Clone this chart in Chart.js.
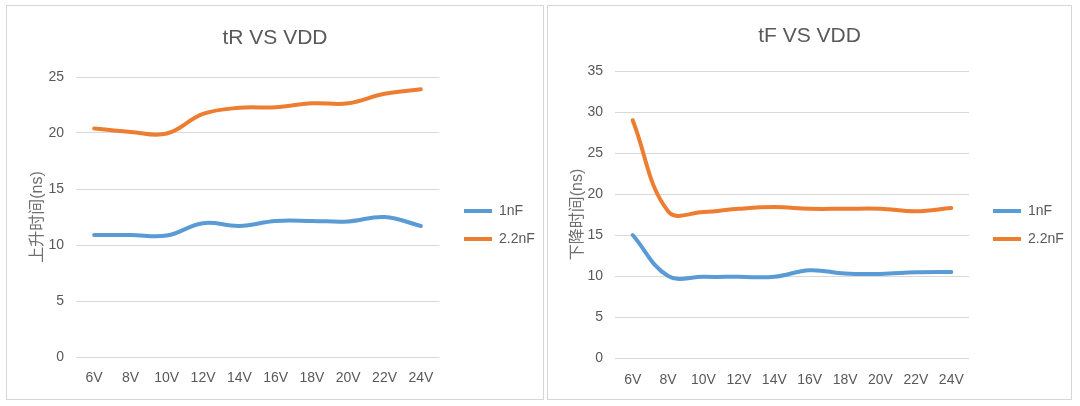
<!DOCTYPE html>
<html lang="zh">
<head>
    <meta charset="UTF-8">
    <title>tR / tF VS VDD</title>
    <script src="https://cdn.jsdelivr.net/npm/chart.js"></script>
    <style>
        body {
            margin: 0;
            width: 1080px;
            height: 406px;
            background: #ffffff;
            position: relative;
            overflow: hidden;
        }
        .panel {
            position: absolute;
            top: 5px;
            height: 393px;
            border: 1px solid #d6d6d6;
            background: #ffffff;
        }
        #leftPanel { left: 6px; width: 536px; }
        #rightPanel { left: 547px; width: 523px; }
        canvas { display: block; }
    </style>
</head>
<body>
    <div id="leftPanel" class="panel"><canvas id="riseChart" width="536" height="393"></canvas></div>
    <div id="rightPanel" class="panel"><canvas id="fallChart" width="523" height="393"></canvas></div>

    <script>
        // supply voltage steps (shared x axis)
        const vddLabels = ['6V', '8V', '10V', '12V', '14V', '16V', '18V', '20V', '22V', '24V'];
        const seriesNames = ['1nF', '2.2nF'];

        // rise time tR (ns)
        const rise1nF = [10.9, 10.9, 10.85, 11.95, 11.7, 12.15, 12.15, 12.1, 12.5, 11.7];
        const rise22nF = [20.4, 20.1, 19.95, 21.7, 22.25, 22.3, 22.65, 22.65, 23.5, 23.9];

        // fall time tF (ns)
        const fall1nF = [15.0, 10.0, 9.9, 9.9, 9.9, 10.7, 10.3, 10.25, 10.45, 10.5];
        const fall22nF = [29.0, 17.9, 17.8, 18.2, 18.4, 18.2, 18.2, 18.2, 17.9, 18.3];

        const blue = '#5B9BD5';
        const orange = '#ED7D31';
        const textGray = '#595959';

        Chart.defaults.font.family = '"Liberation Sans", Arial, "Noto Sans CJK SC", sans-serif';
        Chart.defaults.color = textGray;

        // title spans the whole canvas, legend sits to the right of the plot
        const placeBoxes = {
            id: 'placeBoxes',
            afterLayout(chart, args, opts) {
                const t = chart.titleBlock;
                if (t) {
                    t.left = 0;
                    t.right = chart.width;
                    t.width = chart.width;
                }
                const lg = chart.legend;
                if (lg) {
                    const pad = lg.options.labels.padding;
                    const dx = opts.x - pad - lg.left;
                    const dy = opts.y - pad - lg.top;
                    lg.left += dx; lg.right += dx;
                    lg.top += dy; lg.bottom += dy;
                }
            }
        };

        function makeLine(dataA, dataB) {
            return [
                {
                    label: seriesNames[0],
                    data: dataA,
                    borderColor: blue,
                    backgroundColor: blue
                },
                {
                    label: seriesNames[1],
                    data: dataB,
                    borderColor: orange,
                    backgroundColor: orange
                }
            ].map(ds => Object.assign(ds, {
                borderWidth: 4,
                pointRadius: 0,
                pointHoverRadius: 0,
                tension: 0.4,
                fill: false,
                borderCapStyle: 'round',
                borderJoinStyle: 'round'
            }));
        }

        function makeChart(id, cfg) {
            return new Chart(document.getElementById(id), {
                type: 'line',
                data: {
                    labels: vddLabels,
                    datasets: makeLine(cfg.a, cfg.b)
                },
                plugins: [placeBoxes],
                options: {
                    responsive: false,
                    animation: false,
                    layout: { padding: { left: 0, top: 0, right: cfg.padRight, bottom: 0 } },
                    plugins: {
                        title: {
                            display: true,
                            text: cfg.title,
                            color: textGray,
                            font: { size: 21, weight: 'normal' },
                            padding: { top: cfg.titleTop, bottom: cfg.titleBottom }
                        },
                        legend: {
                            position: 'chartArea',
                            align: 'start',
                            labels: {
                                usePointStyle: true,
                                pointStyle: 'line',
                                pointStyleWidth: 28,
                                boxHeight: 14,
                                padding: 14,
                                color: textGray,
                                font: { size: 14 }
                            }
                        },
                        tooltip: { enabled: false },
                        placeBoxes: { x: cfg.legendX, y: cfg.legendY }
                    },
                    scales: {
                        x: {
                            offset: true,
                            grid: { display: false, drawTicks: false, offset: true },
                            border: { display: false },
                            ticks: { padding: cfg.xPad, font: { size: 14 }, color: textGray },
                            afterFit: s => { s.height = cfg.xHeight; }
                        },
                        y: {
                            min: 0,
                            max: cfg.yMax,
                            grid: { color: '#d9d9d9', lineWidth: 1, drawTicks: false },
                            border: { display: false },
                            ticks: { stepSize: 5, padding: 12, font: { size: 14 }, color: textGray },
                            title: {
                                display: true,
                                text: cfg.yTitle,
                                color: '#6f6f6f',
                                font: { size: 16 },
                                padding: { top: cfg.yTitlePad, bottom: 0 }
                            },
                            afterFit: s => { s.width = cfg.yWidth; }
                        }
                    }
                }
            });
        }

        makeChart('riseChart', {
            a: rise1nF, b: rise22nF,
            title: 'tR VS VDD', yTitle: '上升时间(ns)', yMax: 25,
            padRight: 104, titleTop: 19.4, titleBottom: 26.4,
            xHeight: 42, xPad: 13, yWidth: 69, yTitlePad: 21,
            legendX: 457, legendY: 198
        });

        makeChart('fallChart', {
            a: fall1nF, b: fall22nF,
            title: 'tF VS VDD', yTitle: '下降时间(ns)', yMax: 35,
            padRight: 102, titleTop: 17.4, titleBottom: 22.4,
            xHeight: 41, xPad: 14, yWidth: 67, yTitlePad: 19.5,
            legendX: 445, legendY: 198
        });
    </script>
</body>
</html>
